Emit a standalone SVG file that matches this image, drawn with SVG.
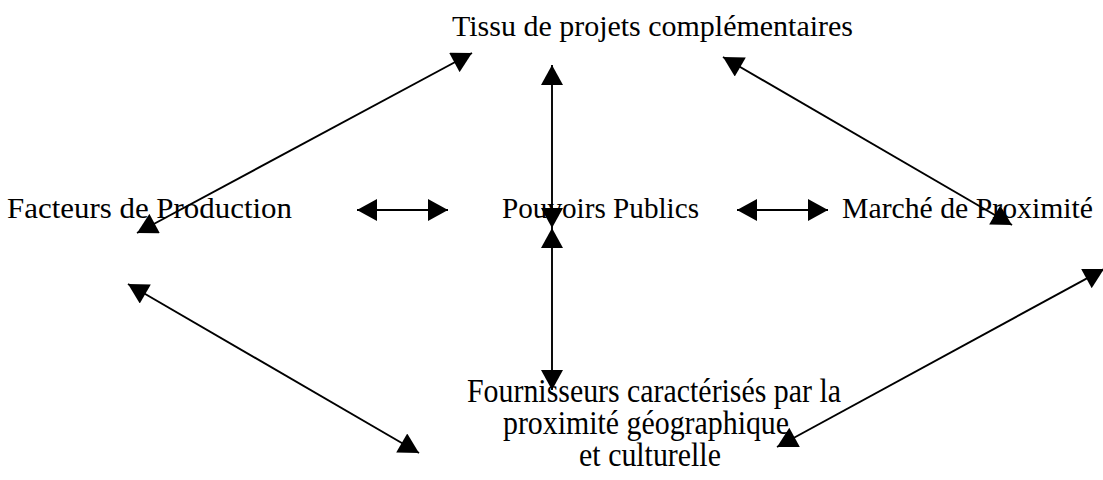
<svg xmlns="http://www.w3.org/2000/svg" width="1103" height="480" viewBox="0 0 1103 480">
<style>
.t{font-family:"Liberation Serif","Times New Roman",serif;font-size:30px;fill:#000}
.c{font-family:"Liberation Serif","Times New Roman",serif;font-size:33px;fill:#000}
.l{stroke:#000;stroke-width:1.9;fill:none;marker-start:url(#ah);marker-end:url(#ah)}
</style>
<defs>
<marker id="ah" markerUnits="userSpaceOnUse" markerWidth="22" markerHeight="22" viewBox="0 0 20 22" refX="20" refY="11" orient="auto-start-reverse">
<path d="M0,0 L20,11 L0,22 z" fill="#000"/>
</marker>
</defs>
<rect width="1103" height="480" fill="#fff"/>
<g id="connectors">
<line class="l" x1="137" y1="233" x2="472" y2="53"/>
<line class="l" x1="357" y1="210" x2="448" y2="210"/>
<line class="l" x1="737" y1="210" x2="828" y2="210"/>
<line class="l" x1="552" y1="65" x2="552" y2="228"/>
<line class="l" x1="552" y1="228" x2="552" y2="390"/>
<line class="l" x1="723" y1="57" x2="1012" y2="225"/>
<line class="l" x1="128" y1="284" x2="419" y2="453"/>
<line class="l" x1="777" y1="447" x2="1104" y2="269"/>
</g>
<g id="tissu"><text class="t" x="452" y="36" textLength="401" lengthAdjust="spacingAndGlyphs">Tissu de projets complémentaires</text></g>
<g id="facteurs"><text class="t" x="7" y="218" textLength="285" lengthAdjust="spacingAndGlyphs">Facteurs de Production</text></g>
<g id="pouvoirs"><text class="t" x="502" y="218" textLength="197" lengthAdjust="spacingAndGlyphs">Pouvoirs Publics</text></g>
<g id="marche"><text class="t" x="842" y="218" textLength="251" lengthAdjust="spacingAndGlyphs">Marché de Proximité</text></g>
<g id="fournisseurs">
<text class="c" text-anchor="middle" transform="translate(654,402) scale(0.905,1)">Fournisseurs caractérisés par la</text>
<text class="c" text-anchor="middle" transform="translate(646,434) scale(0.905,1)">proximité géographique</text>
<text class="c" text-anchor="middle" transform="translate(650,466) scale(0.905,1)">et culturelle</text>
</g>
</svg>
